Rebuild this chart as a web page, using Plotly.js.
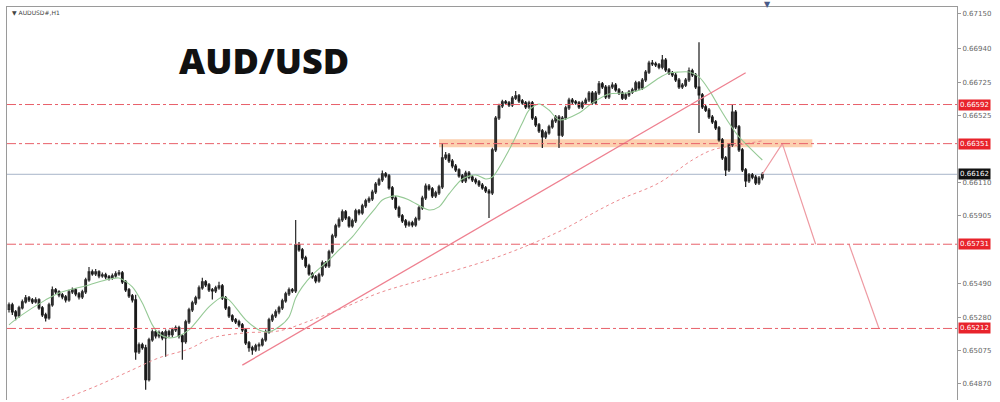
<!DOCTYPE html>
<html>
<head>
<meta charset="utf-8">
<script src="https://cdn.plot.ly/plotly-3.0.1.min.js"></script>
<style>html,body{margin:0;padding:0;background:#fff;}#chart{width:1000px;height:402px;}</style>
</head>
<body>
<div id="chart"></div>
<script>
// ---- Data (AUDUSD#, H1) ----
const symbolLabel = "AUDUSD#,H1";
const chartTitle = "AUD/USD";

const open = [0.65330,0.65357,0.65314,0.65289,0.65339,0.65376,0.65400,0.65388,0.65376,0.65388,
0.65339,0.65296,0.65277,0.65357,0.65450,0.65437,0.65419,0.65406,0.65388,0.65437,
0.65450,0.65425,0.65406,0.65437,0.65511,0.65560,0.65548,0.65560,0.65536,0.65542,
0.65530,0.65523,0.65536,0.65548,0.65554,0.65499,0.65450,0.65413,0.65388,0.65068,
0.65111,0.65093,0.64896,0.65142,0.65191,0.65166,0.65185,0.65154,0.65191,0.65173,
0.65203,0.65216,0.65166,0.65130,0.65253,0.65326,0.65369,0.65400,0.65462,0.65499,
0.65480,0.65450,0.65443,0.65462,0.65474,0.65400,0.65339,0.65289,0.65265,0.65253,
0.65234,0.65203,0.65123,0.65093,0.65080,0.65105,0.65111,0.65142,0.65191,0.65265,
0.65289,0.65314,0.65339,0.65382,0.65425,0.65450,0.65443,0.65727,0.65696,0.65647,
0.65597,0.65548,0.65530,0.65505,0.65542,0.65616,0.65597,0.65684,0.65782,0.65844,
0.65881,0.65930,0.65893,0.65844,0.65875,0.65936,0.65924,0.65967,0.65998,0.66010,
0.66053,0.66102,0.66127,0.66164,0.66152,0.66078,0.66016,0.65955,0.65906,0.65875,
0.65850,0.65862,0.65850,0.65887,0.65955,0.66016,0.66090,0.66072,0.66029,0.66047,
0.66084,0.66263,0.66281,0.66244,0.66213,0.66189,0.66152,0.66121,0.66170,0.66145,
0.66127,0.66115,0.66096,0.66078,0.66059,0.66047,0.66312,0.66509,0.66583,0.66608,
0.66602,0.66589,0.66632,0.66645,0.66614,0.66602,0.66577,0.66602,0.66509,0.66466,
0.66429,0.66392,0.66417,0.66454,0.66491,0.66515,0.66404,0.66509,0.66571,0.66620,
0.66608,0.66602,0.66577,0.66602,0.66620,0.66663,0.66602,0.66663,0.66719,0.66700,
0.66639,0.66700,0.66712,0.66682,0.66663,0.66632,0.66651,0.66669,0.66682,0.66725,
0.66694,0.66743,0.66792,0.66848,0.66842,0.66836,0.66823,0.66866,0.66805,0.66786,
0.66774,0.66743,0.66700,0.66712,0.66743,0.66799,0.66774,0.66700,0.66651,0.66577,
0.66558,0.66515,0.66485,0.66448,0.66374,0.66263,0.66189,0.66343,0.66546,0.66454,
0.66312,0.66189,0.66121,0.66158,0.66145,0.66109,0.66139];

const close = [0.65357,0.65314,0.65289,0.65339,0.65376,0.65400,0.65388,0.65376,0.65388,0.65339,
0.65296,0.65277,0.65357,0.65450,0.65437,0.65419,0.65406,0.65388,0.65437,0.65450,
0.65425,0.65406,0.65437,0.65511,0.65560,0.65548,0.65560,0.65536,0.65542,0.65530,
0.65523,0.65536,0.65548,0.65554,0.65499,0.65450,0.65413,0.65388,0.65068,0.65111,
0.65093,0.64896,0.65142,0.65191,0.65166,0.65185,0.65154,0.65191,0.65173,0.65203,
0.65216,0.65166,0.65130,0.65253,0.65326,0.65369,0.65400,0.65462,0.65499,0.65480,
0.65450,0.65443,0.65462,0.65474,0.65400,0.65339,0.65289,0.65265,0.65253,0.65234,
0.65203,0.65123,0.65093,0.65080,0.65105,0.65111,0.65142,0.65191,0.65265,0.65289,
0.65314,0.65339,0.65382,0.65425,0.65450,0.65443,0.65727,0.65696,0.65647,0.65597,
0.65548,0.65530,0.65505,0.65542,0.65616,0.65597,0.65684,0.65782,0.65844,0.65881,
0.65930,0.65893,0.65844,0.65875,0.65936,0.65924,0.65967,0.65998,0.66010,0.66053,
0.66102,0.66127,0.66164,0.66152,0.66078,0.66016,0.65955,0.65906,0.65875,0.65850,
0.65862,0.65850,0.65887,0.65955,0.66016,0.66090,0.66072,0.66029,0.66047,0.66084,
0.66263,0.66281,0.66244,0.66213,0.66189,0.66152,0.66121,0.66170,0.66145,0.66127,
0.66115,0.66096,0.66078,0.66059,0.66047,0.66312,0.66509,0.66583,0.66608,0.66602,
0.66589,0.66632,0.66645,0.66614,0.66602,0.66577,0.66602,0.66509,0.66466,0.66429,
0.66392,0.66417,0.66454,0.66491,0.66515,0.66404,0.66509,0.66571,0.66620,0.66608,
0.66602,0.66577,0.66602,0.66620,0.66663,0.66602,0.66663,0.66719,0.66700,0.66639,
0.66700,0.66712,0.66682,0.66663,0.66632,0.66651,0.66669,0.66682,0.66725,0.66694,
0.66743,0.66792,0.66848,0.66842,0.66836,0.66823,0.66866,0.66805,0.66786,0.66774,
0.66743,0.66700,0.66712,0.66743,0.66799,0.66774,0.66700,0.66651,0.66577,0.66558,
0.66515,0.66485,0.66448,0.66374,0.66263,0.66189,0.66343,0.66546,0.66454,0.66312,
0.66189,0.66121,0.66158,0.66145,0.66109,0.66139,0.66162];

const high = [0.65372,0.65370,0.65325,0.65352,0.65390,0.65418,0.65412,0.65400,0.65405,0.65398,
0.65350,0.65308,0.65370,0.65470,0.65462,0.65448,0.65430,0.65418,0.65450,0.65465,
0.65462,0.65436,0.65450,0.65525,0.65590,0.65575,0.65578,0.65570,0.65556,0.65555,
0.65542,0.65550,0.65565,0.65572,0.65566,0.65510,0.65462,0.65425,0.65419,0.65125,
0.65124,0.65111,0.65155,0.65205,0.65203,0.65200,0.65196,0.65205,0.65204,0.65216,
0.65230,0.65228,0.65178,0.65265,0.65340,0.65382,0.65413,0.65476,0.65525,0.65510,
0.65492,0.65462,0.65475,0.65500,0.65486,0.65412,0.65350,0.65300,0.65277,0.65265,
0.65246,0.65215,0.65135,0.65105,0.65118,0.65125,0.65155,0.65205,0.65278,0.65302,
0.65328,0.65352,0.65395,0.65438,0.65465,0.65462,0.65881,0.65745,0.65708,0.65660,
0.65610,0.65560,0.65542,0.65555,0.65630,0.65628,0.65697,0.65795,0.65857,0.65895,
0.65945,0.65942,0.65905,0.65888,0.65950,0.65948,0.65980,0.66012,0.66025,0.66066,
0.66115,0.66140,0.66185,0.66176,0.66164,0.66090,0.66028,0.65968,0.65918,0.65887,
0.65875,0.65875,0.65900,0.65968,0.66030,0.66105,0.66102,0.66084,0.66060,0.66097,
0.66355,0.66300,0.66293,0.66256,0.66225,0.66200,0.66164,0.66184,0.66182,0.66158,
0.66140,0.66127,0.66108,0.66090,0.66072,0.66325,0.66522,0.66596,0.66622,0.66620,
0.66614,0.66645,0.66675,0.66657,0.66626,0.66614,0.66615,0.66614,0.66521,0.66478,
0.66441,0.66430,0.66467,0.66504,0.66528,0.66527,0.66522,0.66584,0.66633,0.66632,
0.66620,0.66614,0.66615,0.66633,0.66676,0.66675,0.66676,0.66737,0.66731,0.66712,
0.66713,0.66730,0.66725,0.66694,0.66675,0.66664,0.66682,0.66695,0.66738,0.66737,
0.66756,0.66805,0.66861,0.66866,0.66855,0.66848,0.66897,0.66878,0.66817,0.66798,
0.66786,0.66755,0.66725,0.66756,0.66820,0.66812,0.66786,0.66976,0.66663,0.66590,
0.66570,0.66527,0.66497,0.66460,0.66386,0.66275,0.66355,0.66589,0.66558,0.66466,
0.66324,0.66201,0.66170,0.66170,0.66157,0.66152,0.66175];

const low = [0.65310,0.65295,0.65262,0.65278,0.65328,0.65365,0.65375,0.65362,0.65365,0.65327,
0.65282,0.65255,0.65266,0.65345,0.65425,0.65405,0.65392,0.65372,0.65376,0.65425,
0.65410,0.65390,0.65394,0.65425,0.65500,0.65536,0.65535,0.65522,0.65525,0.65515,
0.65508,0.65512,0.65524,0.65536,0.65486,0.65437,0.65400,0.65372,0.65019,0.65055,
0.65080,0.64834,0.64885,0.65130,0.65150,0.65152,0.65140,0.65037,0.65160,0.65160,
0.65190,0.65150,0.65019,0.65118,0.65240,0.65314,0.65356,0.65390,0.65450,0.65468,
0.65436,0.65390,0.65430,0.65450,0.65388,0.65326,0.65276,0.65252,0.65240,0.65220,
0.65190,0.65110,0.65068,0.65050,0.65068,0.65075,0.65100,0.65130,0.65180,0.65252,
0.65276,0.65300,0.65326,0.65370,0.65412,0.65430,0.65430,0.65684,0.65634,0.65585,
0.65536,0.65518,0.65490,0.65493,0.65530,0.65585,0.65585,0.65672,0.65770,0.65832,
0.65868,0.65880,0.65832,0.65832,0.65862,0.65910,0.65912,0.65955,0.65985,0.65998,
0.66040,0.66090,0.66115,0.66140,0.66066,0.66004,0.65942,0.65893,0.65862,0.65832,
0.65838,0.65836,0.65838,0.65875,0.65942,0.66004,0.66060,0.66016,0.66016,0.66035,
0.66072,0.66250,0.66232,0.66200,0.66176,0.66140,0.66108,0.66108,0.66132,0.66115,
0.66100,0.66084,0.66066,0.66047,0.65893,0.66035,0.66300,0.66497,0.66571,0.66590,
0.66576,0.66577,0.66620,0.66602,0.66590,0.66564,0.66565,0.66497,0.66454,0.66417,
0.66324,0.66380,0.66405,0.66442,0.66478,0.66324,0.66392,0.66497,0.66558,0.66595,
0.66590,0.66564,0.66565,0.66590,0.66608,0.66590,0.66590,0.66651,0.66688,0.66626,
0.66626,0.66688,0.66670,0.66651,0.66620,0.66620,0.66639,0.66657,0.66670,0.66682,
0.66682,0.66731,0.66780,0.66830,0.66823,0.66810,0.66810,0.66792,0.66774,0.66762,
0.66731,0.66688,0.66688,0.66700,0.66731,0.66762,0.66688,0.66417,0.66564,0.66546,
0.66503,0.66472,0.66435,0.66362,0.66250,0.66152,0.66176,0.66330,0.66441,0.66300,
0.66176,0.66084,0.66108,0.66132,0.66096,0.66096,0.66126];

// fast moving average (green)
const maFastBar = [0,3,11,15,24,29,33,37,40,43,45,48,51,54,60,64,66,71,75,78,81,84,86,88,91,96,99,103,107,110,
112,116,120,126,129,132,136,140,143,145,150,154,156,159,162,165,171,175,180,185,190,195,198,201,204,207,210,213,216,219,222,226];
const maFast = [0.65234,0.65283,0.65388,0.65431,0.65480,0.65511,0.65523,0.65468,0.65369,0.65234,0.65179,0.65154,0.65166,0.65203,0.65345,0.65406,0.65388,0.65265,0.65203,0.65191,
0.65222,0.65283,0.65400,0.65468,0.65542,0.65634,0.65696,0.65776,0.65881,0.65955,0.66004,0.66029,0.66004,0.65942,0.65961,0.66041,0.66133,0.66158,0.66133,0.66145,
0.66312,0.66478,0.66558,0.66595,0.66558,0.66497,0.66540,0.66602,0.66657,0.66663,0.66688,0.66756,0.66786,0.66792,0.66792,0.66762,0.66682,0.66577,0.66478,0.66392,0.66330,0.66250];

// slow moving average (red dotted)
const maSlowBar = [9,16,27,37,45,54,61,71,81,91,101,111,126,144,156,166,177,183,195,205,211,219,226];
const maSlow = [0.64710,0.64772,0.64864,0.64957,0.65031,0.65086,0.65154,0.65185,0.65197,0.65265,0.65345,0.65431,0.65523,0.65634,0.65727,0.65819,0.65942,0.66004,0.66109,0.66250,0.66312,0.66343,0.66368];

// trend line
const trendBar = [70, 221];
const trendPrice = [0.64986, 0.66788];

// projected path
const projBarA = [226, 232, 242];
const projPriceA = [0.66162, 0.66351, 0.65731];
const projBarB = [252, 261];
const projPriceB = [0.65731, 0.65212];

// levels
const levels = [0.66592, 0.66351, 0.65731, 0.65212];
const currentPrice = 0.66162;
const zoneBars = [129, 241];
const zonePrice = [0.66328, 0.66378];

// price-scale labels (those hidden under the level tags are left out)
const tickVals = [0.67150,0.66940,0.66725,0.66525,0.66110,0.65905,0.65490,0.65280,0.65075,0.64870];
const tickText = tickVals.map(v => v.toFixed(5));

const bars = close.map((_, i) => i);

// ---- Traces ----
const traces = [
  {type:'candlestick', x:bars, open:open, high:high, low:low, close:close,
   increasing:{line:{color:'#2a2a2a', width:1.2}, fillcolor:'#3a3a3a'},
   decreasing:{line:{color:'#1a1a1a', width:1.2}, fillcolor:'#1a1a1a'},
   whiskerwidth:0, hoverinfo:'skip', showlegend:false},
  {type:'scatter', mode:'lines', x:maSlowBar, y:maSlow, line:{color:'#ec8a8f', width:1, dash:'dot', shape:'spline'}, hoverinfo:'skip', showlegend:false},
  {type:'scatter', mode:'lines', x:maFastBar, y:maFast, line:{color:'#95c995', width:1.1, shape:'spline', smoothing:0.8}, hoverinfo:'skip', showlegend:false},
  {type:'scatter', mode:'lines', x:trendBar, y:trendPrice, line:{color:'#ee8090', width:1.3}, hoverinfo:'skip', showlegend:false},
  {type:'scatter', mode:'lines', x:projBarA, y:projPriceA, line:{color:'#ee9aa2', width:1.2}, hoverinfo:'skip', showlegend:false},
  {type:'scatter', mode:'lines', x:projBarB, y:projPriceB, line:{color:'#ee9aa2', width:1.2}, hoverinfo:'skip', showlegend:false}
];

// ---- Shapes ----
const shapes = [
  {type:'rect', xref:'x', yref:'y', x0:zoneBars[0], x1:zoneBars[1], y0:zonePrice[0], y1:zonePrice[1],
   fillcolor:'rgba(250,170,110,0.55)', line:{width:0}, layer:'below'}
];
levels.forEach(v => shapes.push({type:'line', xref:'paper', yref:'y', x0:0, x1:1, y0:v, y1:v,
  line:{color:'#e8606a', width:1, dash:'dashdot'}, layer:'above'}));
shapes.push({type:'line', xref:'paper', yref:'y', x0:0, x1:1, y0:currentPrice, y1:currentPrice,
  line:{color:'#a8b4c8', width:1}, layer:'below'});

// ---- Annotations ----
const annotations = [
  {xref:'paper', yref:'paper', x:0.2705, y:0.865, text:chartTitle, showarrow:false,
   font:{family:'Open Sans, sans-serif', size:36, color:'#111', weight:800}, xanchor:'center', yanchor:'middle'},
  {xref:'paper', yref:'paper', x:0.003, y:0.985, text:'▼ ' + symbolLabel, showarrow:false,
   font:{family:'DejaVu Sans, sans-serif', size:6, color:'#444'}, xanchor:'left', yanchor:'middle'},
  {xref:'paper', yref:'paper', x:(767-7)/950, y:1.006, text:'▼', showarrow:false,
   font:{family:'DejaVu Sans, sans-serif', size:8, color:'#4a5b88'}, xanchor:'center', yanchor:'middle'}
];
levels.forEach(v => annotations.push({xref:'paper', yref:'y', x:1, y:v, xanchor:'left', yanchor:'middle',
  xshift:1, text:v.toFixed(5), showarrow:false, bgcolor:'#e8232b', borderpad:1,
  font:{family:'DejaVu Sans, sans-serif', size:7, color:'#ffffff'}}));
annotations.push({xref:'paper', yref:'y', x:1, y:currentPrice, xanchor:'left', yanchor:'middle',
  xshift:1, text:currentPrice.toFixed(5), showarrow:false, bgcolor:'#111111', borderpad:1,
  font:{family:'DejaVu Sans, sans-serif', size:7, color:'#ffffff'}});

const layout = {
  width:1000, height:402,
  margin:{l:7, r:43, t:7, b:2, pad:0},
  paper_bgcolor:'#ffffff', plot_bgcolor:'#ffffff',
  showlegend:false,
  xaxis:{range:[-0.6, 284.4], showgrid:false, zeroline:false, showticklabels:false, ticks:'',
         showline:true, side:'top', linecolor:'#9a9a9a', linewidth:1, rangeslider:{visible:false}, fixedrange:true},
  yaxis:{range:[0.64771, 0.67193], side:'right', showgrid:false, zeroline:false,
         showline:true, mirror:true, linecolor:'#9a9a9a', linewidth:1,
         tickmode:'array', tickvals:tickVals, ticktext:tickText, ticks:'outside', ticklen:3, tickcolor:'#9a9a9a',
         tickfont:{family:'DejaVu Sans, sans-serif', size:7, color:'#666'}, fixedrange:true},
  shapes:shapes,
  annotations:annotations
};

Plotly.newPlot('chart', traces, layout, {staticPlot:true, displayModeBar:false});
</script>
</body>
</html>
